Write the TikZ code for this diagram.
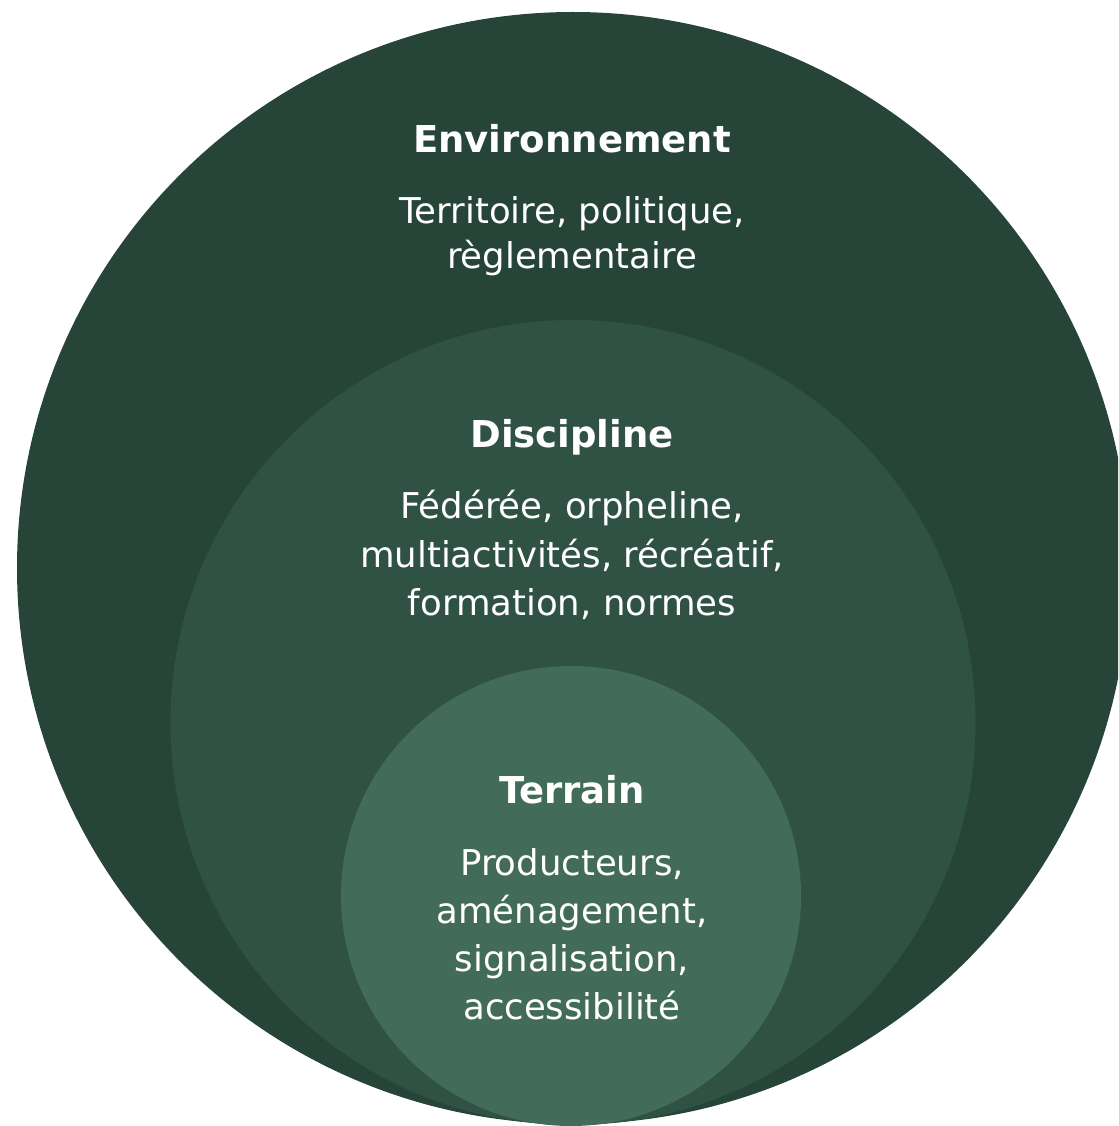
\documentclass[tikz,border=0pt]{standalone}
\usepackage{fontspec}
\setmainfont{DejaVu Sans}
\definecolor{outerc}{RGB}{39,68,56}
\definecolor{midc}{RGB}{48,82,68}
\definecolor{innerc}{RGB}{66,107,89}
\tikzset{
  ttl/.style={anchor=base, text=white, font=\fontsize{37}{40}\selectfont\bfseries, inner sep=0pt},
  body/.style={anchor=base, text=white, font=\fontsize{35.5}{40}\selectfont, inner sep=0pt},
}
\begin{document}
\begin{tikzpicture}[x=1pt,y=-1pt]
\useasboundingbox (0,0) rectangle (1118,1126);
\clip (0,0) rectangle (1118,1126);
\fill[outerc] (573,568) circle [radius=556pt];
\fill[midc] (573,722.5) circle [radius=402.5pt];
\fill[innerc] (571,896) circle [radius=230pt];
\node[ttl] (envt) at (572,153) {Environnement};
\node[body] (env1) at (572,223) {Territoire, politique,};
\node[body] (env2) at (572,268) {règlementaire};
\node[ttl] (dist) at (572,447) {Discipline};
\node[body] (dis1) at (572,518) {Fédérée, orpheline,};
\node[body] (dis2) at (572,567) {multiactivités, récréatif,};
\node[body] (dis3) at (572,615) {formation, normes};
\node[ttl] (tert) at (572,803) {Terrain};
\node[body] (ter1) at (572,875) {Producteurs,};
\node[body] (ter2) at (572,923) {aménagement,};
\node[body] (ter3) at (572,971) {signalisation,};
\node[body] (ter4) at (572,1019) {accessibilité};
\end{tikzpicture}
\end{document}
